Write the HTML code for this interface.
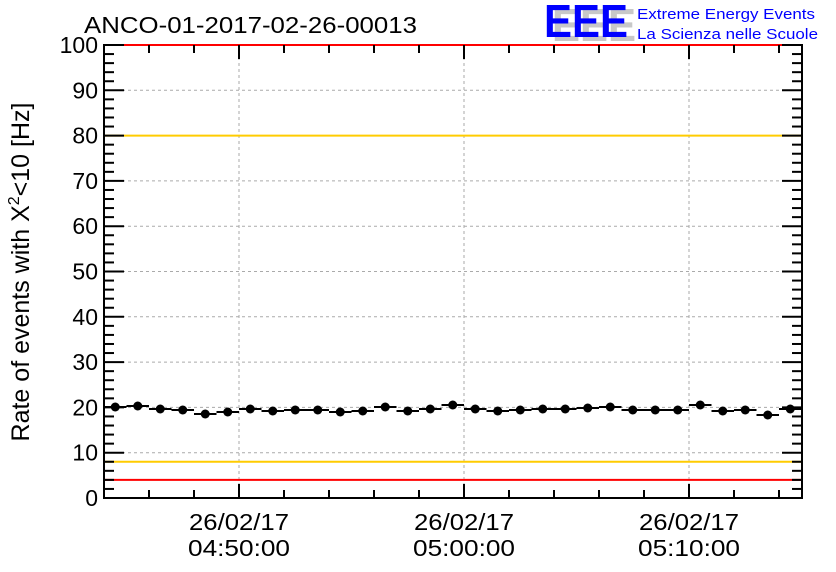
<!DOCTYPE html>
<html><head><meta charset="utf-8"><style>
html,body{margin:0;padding:0;background:#fff;}
svg{display:block;font-family:"Liberation Sans",Arial,sans-serif;}
</style></head><body>
<svg id="s" width="836" height="572" viewBox="0 0 836 572" xmlns="http://www.w3.org/2000/svg">
<rect width="836" height="572" fill="#fff"/>
<text x="84" y="33" font-size="23" fill="#000" textLength="333" lengthAdjust="spacingAndGlyphs">ANCO-01-2017-02-26-00013</text>
<g font-weight="bold" font-size="46" font-family="Liberation Sans,sans-serif">
<text x="552" y="41" fill="#c8c8c8" textLength="84" lengthAdjust="spacingAndGlyphs">EEE</text>
<text x="544" y="37" fill="#0000ff" textLength="84" lengthAdjust="spacingAndGlyphs">EEE</text>
</g>
<text x="637" y="19" font-size="15" fill="#0000ff" textLength="178" lengthAdjust="spacingAndGlyphs">Extreme Energy Events</text>
<text x="637" y="39" font-size="15" fill="#0000ff" textLength="181" lengthAdjust="spacingAndGlyphs">La Scienza nelle Scuole</text>
<g id="g"></g>
<text transform="translate(29,272) rotate(-90)" text-anchor="middle" font-size="25" fill="#000">Rate of events with X<tspan dy="-10" font-size="16">2</tspan><tspan dy="10">&lt;10 [Hz]</tspan></text>
<g font-size="23" text-anchor="middle" fill="#000">
<text x="239" y="530" textLength="100" lengthAdjust="spacingAndGlyphs">26/02/17</text><text x="239" y="556" textLength="102" lengthAdjust="spacingAndGlyphs">04:50:00</text>
<text x="464" y="530" textLength="100" lengthAdjust="spacingAndGlyphs">26/02/17</text><text x="464" y="556" textLength="102" lengthAdjust="spacingAndGlyphs">05:00:00</text>
<text x="689" y="530" textLength="100" lengthAdjust="spacingAndGlyphs">26/02/17</text><text x="689" y="556" textLength="102" lengthAdjust="spacingAndGlyphs">05:10:00</text>
</g>
</svg>
<script>
const g=document.getElementById('g');let h='';
const L=104,R=802,T=45,B=498,Y=v=>B-v*(B-T)/100;
for(let v=10;v<100;v+=10)h+=`<line x1="${L}" x2="${R}" y1="${Y(v)}" y2="${Y(v)}" stroke="#aaa" stroke-dasharray="3,3"/>`;
for(const x of [239,464,689])h+=`<line x1="${x}" x2="${x}" y1="${T}" y2="${B}" stroke="#aaa" stroke-dasharray="3,3"/>`;
h+=`<line x1="${L}" x2="${R}" y1="${Y(80)}" y2="${Y(80)}" stroke="#ffcc00" stroke-width="2"/>`;
h+=`<line x1="${L}" x2="${R}" y1="${Y(8)}" y2="${Y(8)}" stroke="#ffcc00" stroke-width="2"/>`;
h+=`<line x1="${L}" x2="${R}" y1="${Y(4)}" y2="${Y(4)}" stroke="#ff0000" stroke-width="2"/>`;
h+=`<rect x="${L}" y="${T}" width="${R-L}" height="${B-T}" fill="none" stroke="#000" stroke-width="2"/>`;
h+=`<line x1="${L}" x2="${R}" y1="${T}" y2="${T}" stroke="#ff0000" stroke-width="2"/>`;
for(let v=0;v<=100;v+=2){const y=Y(v),len=v%10==0?20:10;
h+=`<line x1="${L}" x2="${L+len}" y1="${y}" y2="${y}" stroke="#000" stroke-width="2"/>`;
h+=`<line x1="${R}" x2="${R-len}" y1="${y}" y2="${y}" stroke="#000" stroke-width="2"/>`;
if(v%10==0)h+=`<text x="${L-6}" y="${y+8}" text-anchor="end" font-size="23">${v}</text>`;}
for(let x=149;x<R;x+=45){const len=((x-239)%225==0)?14:8;
h+=`<line x1="${x}" x2="${x}" y1="${B}" y2="${B-len}" stroke="#000" stroke-width="2"/>`;
h+=`<line x1="${x}" x2="${x}" y1="${T}" y2="${T+len}" stroke="#000" stroke-width="2"/>`;}
const ys=[407,406,409,410,414,412,409,411,410,410,412,411,407,411,409,405,409,411,410,409,409,408,407,410,410,410,405,411,410,415,409];
ys.forEach((y,i)=>{const x=115.25+i*22.5;
h+=`<line x1="${x-11.25}" x2="${x+11.25}" y1="${y}" y2="${y}" stroke="#000" stroke-width="2"/>`;
h+=`<circle cx="${x}" cy="${y}" r="4.5" fill="#000"/>`;});
g.innerHTML=h;
</script>
</body></html>
